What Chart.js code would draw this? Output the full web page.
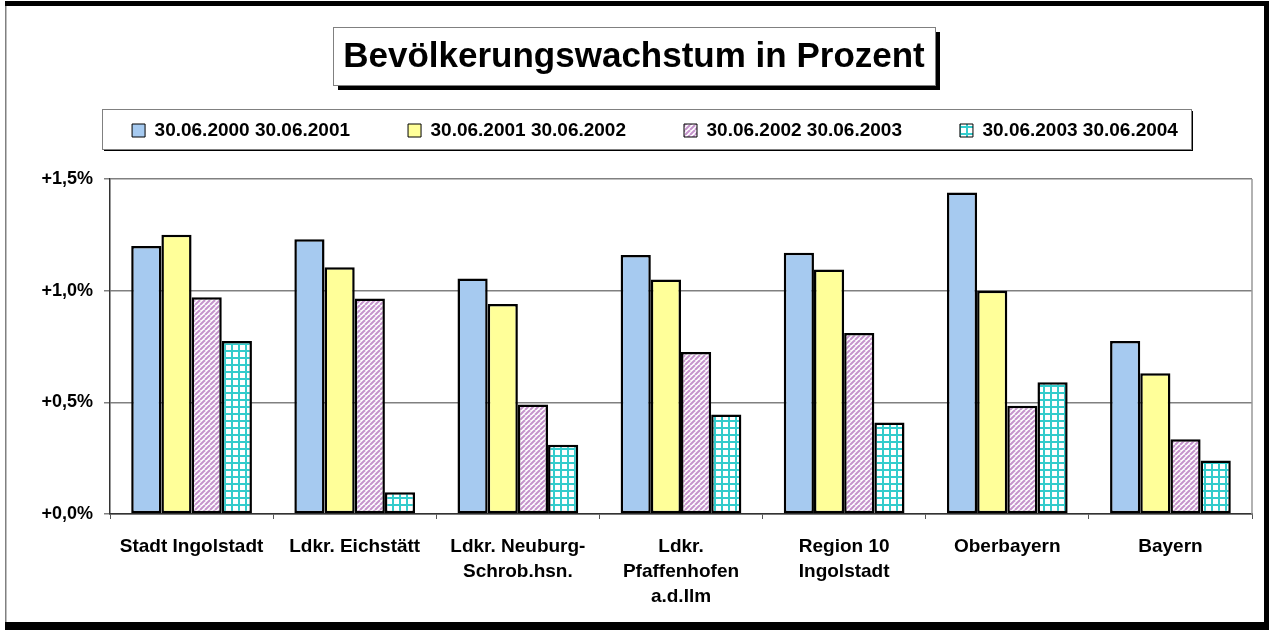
<!DOCTYPE html>
<html>
<head>
<meta charset="utf-8">
<script src="https://cdn.jsdelivr.net/npm/chart.js@4.4.1/dist/chart.umd.min.js"></script>
<style>
  html, body { margin: 0; background: #fff; }
  #wrap { width: 1270px; height: 630px; }
</style>
</head>
<body>
<div id="wrap"><canvas id="chart" width="1270" height="630"></canvas></div>
<script>
// ── data ──────────────────────────────────────
const categories = [
  "Stadt Ingolstadt",
  "Ldkr. Eichstätt",
  ["Ldkr. Neuburg-", "Schrob.hsn."],
  ["Ldkr.", "Pfaffenhofen", "a.d.Ilm"],
  ["Region 10", "Ingolstadt"],
  "Oberbayern",
  "Bayern"
];
const seriesNames = [
  "30.06.2000 30.06.2001",
  "30.06.2001 30.06.2002",
  "30.06.2002 30.06.2003",
  "30.06.2003 30.06.2004"
];
const growth2001 = [1.20, 1.23, 1.055, 1.16, 1.17, 1.44, 0.775];
const growth2002 = [1.25, 1.105, 0.94, 1.05, 1.095, 1.00, 0.63];
const growth2003 = [0.97, 0.965, 0.49, 0.725, 0.81, 0.485, 0.335];
const growth2004 = [0.775, 0.097, 0.31, 0.445, 0.41, 0.59, 0.24];
const yTickValues = [0, 0.5, 1.0, 1.5];
const yTickLabels = ["+0,0%", "+0,5%", "+1,0%", "+1,5%"];
const chartTitle = "Bevölkerungswachstum in Prozent";

const FONT = "Arial, 'Liberation Sans', sans-serif";

// ── fill patterns ─────────────────────────────
function stripePattern() {
  const c = document.createElement("canvas");
  c.width = c.height = 5;
  const x = c.getContext("2d");
  x.fillStyle = "#fff"; x.fillRect(0, 0, 5, 5);
  x.strokeStyle = "#c593cc"; x.lineWidth = 2;
  for (let i = -5; i <= 10; i += 5) {
    x.beginPath(); x.moveTo(i, 5); x.lineTo(i + 5, 0); x.stroke();
  }
  return x.createPattern(c, "repeat");
}

function gridPattern() {
  const c = document.createElement("canvas");
  c.width = c.height = 7;
  const x = c.getContext("2d");
  x.fillStyle = "#fff"; x.fillRect(0, 0, 7, 7);
  x.fillStyle = "#33cccc";
  x.fillRect(0, 0, 7, 2);
  x.fillRect(0, 0, 2, 7);
  return x.createPattern(c, "repeat");
}

const fills = ["#a6caf0", "#ffff99", stripePattern(), gridPattern()];
const values = [growth2001, growth2002, growth2003, growth2004];

// ── plugins ───────────────────────────────────
// empty layout boxes: gap under the legend, margin right of the plot
function blankBox(position, size) {
  const horiz = position === "top" || position === "bottom";
  return {
    position, weight: 0, fullSize: false, options: {},
    isHorizontal: () => horiz,
    update(w, h) {
      this.width = horiz ? w : size;
      this.height = horiz ? size : h;
    },
    draw() {}
  };
}

const spacer = {
  id: "spacer",
  beforeInit(chart) {
    Chart.layouts.addBox(chart, blankBox("top", 29));
    Chart.layouts.addBox(chart, blankBox("right", 18));
  }
};

// outer frame, boxed title, legend box
const frame = {
  id: "frame",
  beforeDraw(chart) {
    const { ctx } = chart;
    ctx.save();
    ctx.fillStyle = "#fff";
    ctx.fillRect(0, 0, chart.width, chart.height);

    ctx.fillStyle = "#000";
    ctx.fillRect(5, 1, 1264, 5);
    ctx.fillRect(1264, 1, 5, 629);
    ctx.fillRect(5, 622, 1264, 8);
    ctx.fillStyle = "#808080";
    ctx.fillRect(5, 6, 1.5, 616);

    // title
    ctx.font = "bold 35px " + FONT;
    const tw = ctx.measureText(chartTitle).width;
    const cx = 634;
    const bx = Math.round(cx - tw / 2 - 10), by = 27, bw = Math.round(tw + 20), bh = 58;
    ctx.fillStyle = "#000";
    ctx.fillRect(bx + 5, by + 5, bw, bh);
    ctx.fillStyle = "#fff";
    ctx.fillRect(bx, by, bw, bh);
    ctx.strokeStyle = "#808080"; ctx.lineWidth = 1;
    ctx.strokeRect(bx + 0.5, by + 0.5, bw, bh);
    ctx.fillStyle = "#000";
    ctx.textAlign = "center";
    ctx.textBaseline = "middle";
    ctx.fillText(chartTitle, cx, 57);

    // legend box
    const hb = chart.legend && chart.legend.legendHitBoxes;
    if (hb && hb.length) {
      const first = hb[0], last = hb[hb.length - 1];
      const lx = Math.round(first.left - 30), ly = 109;
      const lw = Math.round(last.left + last.width + 13) - lx, lh = 40;
      ctx.fillStyle = "#000";
      ctx.fillRect(lx + 2, ly + 2, lw, lh);
      ctx.fillStyle = "#fff";
      ctx.fillRect(lx, ly, lw, lh);
      ctx.strokeStyle = "#808080";
      ctx.strokeRect(lx + 0.5, ly + 0.5, lw, lh);
    }
    ctx.restore();
  },
  beforeDatasetsDraw(chart) {
    const { ctx, chartArea: a } = chart;
    ctx.save();
    ctx.strokeStyle = "#999"; ctx.lineWidth = 1.5;
    ctx.beginPath();
    ctx.moveTo(a.right, a.top); ctx.lineTo(a.right, a.bottom);
    ctx.stroke();
    ctx.restore();
  }
};

// ── chart ─────────────────────────────────────
new Chart(document.getElementById("chart"), {
  type: "bar",
  data: {
    labels: categories,
    datasets: seriesNames.map((name, i) => ({
      label: name,
      data: values[i],
      backgroundColor: fills[i],
      borderColor: "#000",
      borderWidth: 2.5,
      borderSkipped: false,
      categoryPercentage: 0.74,
      barPercentage: 1.0
    }))
  },
  options: {
    responsive: false,
    animation: false,
    devicePixelRatio: 1,
    layout: { padding: { top: 63, left: 40, right: 0, bottom: 12 } },
    plugins: {
      tooltip: { enabled: false },
      title: { display: false },
      legend: {
        display: true,
        position: "top",
        labels: {
          color: "#000",
          font: { family: FONT, size: 19, weight: "bold" },
          boxWidth: 13, boxHeight: 13,
          padding: 58,
          generateLabels(chart) {
            const items = Chart.defaults.plugins.legend.labels.generateLabels(chart);
            items.forEach(it => { it.lineWidth = 1; it.strokeStyle = "#000"; });
            return items;
          }
        }
      }
    },
    scales: {
      x: {
        afterFit(s) { s.height = 104; },
        grid: { display: true, drawOnChartArea: false, drawTicks: true, tickLength: 5, color: "#555", offset: true },
        border: { color: "#333", width: 1.5 },
        ticks: { color: "#000", padding: 16, maxRotation: 0, autoSkip: false,
                 font: { family: FONT, size: 19, weight: "bold", lineHeight: 1.29 } }
      },
      y: {
        min: 0, max: 1.5,
        afterFit(s) { s.width = 70; },
        afterBuildTicks(s) { s.ticks = yTickValues.map(v => ({ value: v })); },
        grid: { color: "#808080", lineWidth: 1.5, tickLength: 6 },
        border: { color: "#333", width: 1.5 },
        ticks: {
          color: "#000", padding: 11,
          font: { family: FONT, size: 18, weight: "bold" },
          callback: (v) => yTickLabels[yTickValues.indexOf(v)]
        }
      }
    }
  },
  plugins: [spacer, frame]
});
</script>
</body>
</html>
